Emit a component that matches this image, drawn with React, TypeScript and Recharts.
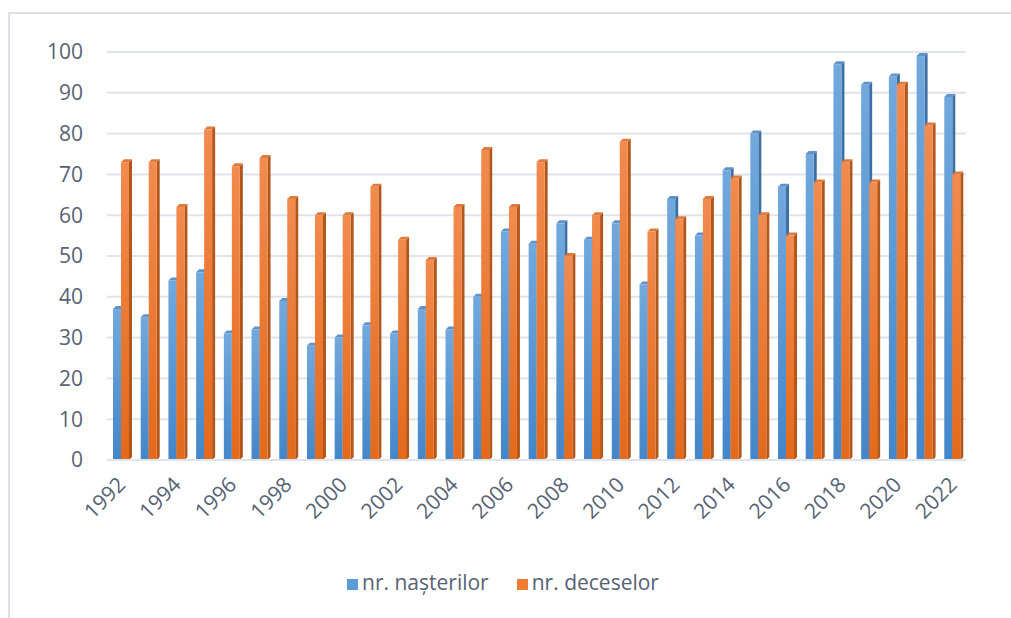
import { BarChart, Bar, XAxis, YAxis, CartesianGrid, Legend } from 'recharts';

const years = [
  '1992', '1993', '1994', '1995', '1996', '1997', '1998', '1999', '2000', '2001', '2002',
  '2003', '2004', '2005', '2006', '2007', '2008', '2009', '2010', '2011', '2012', '2013',
  '2014', '2015', '2016', '2017', '2018', '2019', '2020', '2021', '2022',
];
const nasteri = [37, 35, 44, 46, 31, 32, 39, 28, 30, 33, 31, 37, 32, 40, 56, 53, 58, 54, 58, 43, 64, 55, 71, 80, 67, 75, 97, 92, 94, 99, 89];
const decese = [73, 73, 62, 81, 72, 74, 64, 60, 60, 67, 54, 49, 62, 76, 62, 73, 50, 60, 78, 56, 59, 64, 69, 60, 55, 68, 73, 68, 92, 82, 70];
const yTicks = [0, 10, 20, 30, 40, 50, 60, 70, 80, 90, 100];

const data = years.map((year, i) => ({ year, nasteri: nasteri[i], decese: decese[i] }));

const textColor = '#566274';
const font = '"Open Sans", sans-serif';

const palette: Record<string, { grad: string; side: string; top: string }> = {
  nasteri: { grad: 'gradBlue', side: '#3c6fa3', top: '#5e92c8' },
  decese: { grad: 'gradOrange', side: '#b2561a', top: '#e07a3a' },
};

const Bar3D = (props: any) => {
  const { x, y, width, height, dataKey } = props;
  if (!height || height <= 0) return null;
  const d = 3;
  const c = palette[dataKey];
  return (
    <g>
      <polygon
        points={`${x + width},${y} ${x + width + d},${y - d} ${x + width + d},${y + height - d} ${x + width},${y + height}`}
        fill={c.side}
      />
      <polygon
        points={`${x},${y} ${x + d},${y - d} ${x + width + d},${y - d} ${x + width},${y}`}
        fill={c.top}
      />
      <rect x={x} y={y} width={width} height={height} fill={`url(#${c.grad})`} />
    </g>
  );
};

const YearTick = ({ x, y, payload }: any) => {
  const tx = x + 6;
  const ty = y + 18;
  return (
    <text
      x={tx}
      y={ty}
      textAnchor="end"
      fill={textColor}
      fontSize={21}
      fontFamily={font}
      transform={`rotate(-45 ${tx} ${ty})`}
    >
      {payload.value}
    </text>
  );
};

const order: Record<string, number> = { nasteri: 0, decese: 1 };

export default function App() {
  return (
    <div style={{ position: 'absolute', left: 0, top: 0, width: 1011, height: 618, background: '#fff', overflow: 'hidden' }}>
      <div
        style={{
          position: 'absolute',
          left: 8,
          top: 12,
          width: 1100,
          height: 700,
          borderTop: '2px solid #dde2ea',
          borderLeft: '2px solid #dde2ea',
        }}
      />
      <BarChart
        width={1011}
        height={618}
        data={data}
        margin={{ top: 52, right: 45, left: 0, bottom: 22 }}
        barSize={8}
        barGap={0}
        style={{ position: 'absolute', left: 0, top: 0 }}
      >
        <defs>
          <linearGradient id="gradBlue" x1="0" y1="0" x2="0" y2="1">
            <stop offset="0%" stopColor="#72a9dd" />
            <stop offset="100%" stopColor="#4486c9" />
          </linearGradient>
          <linearGradient id="gradOrange" x1="0" y1="0" x2="0" y2="1">
            <stop offset="0%" stopColor="#f28b4f" />
            <stop offset="100%" stopColor="#e4691a" />
          </linearGradient>
        </defs>
        <CartesianGrid vertical={false} stroke="#dfe3ea" strokeWidth={2} />
        <XAxis
          dataKey="year"
          interval={1}
          tickLine={false}
          axisLine={{ stroke: '#dfe3ea', strokeWidth: 2 }}
          height={108}
          tick={<YearTick />}
        />
        <YAxis
          width={107}
          domain={[0, 100]}
          ticks={yTicks}
          tickLine={false}
          axisLine={false}
          tickSize={0}
          tickMargin={24}
          tick={{ fill: textColor, fontSize: 21, fontFamily: font }}
        />
        <Legend
          verticalAlign="bottom"
          iconType="square"
          iconSize={11}
          itemSorter={(item: any) => order[item.dataKey] ?? 0}
          wrapperStyle={{ fontFamily: font, fontSize: 21, paddingLeft: 34 }}
          formatter={(value: string) => <span style={{ color: textColor, marginRight: 18 }}>{value}</span>}
        />
        <Bar dataKey="nasteri" name="nr. nașterilor" fill="#5b9bd5" shape={<Bar3D />} isAnimationActive={false} />
        <Bar dataKey="decese" name="nr. deceselor" fill="#ed7d31" shape={<Bar3D />} isAnimationActive={false} />
      </BarChart>
    </div>
  );
}
